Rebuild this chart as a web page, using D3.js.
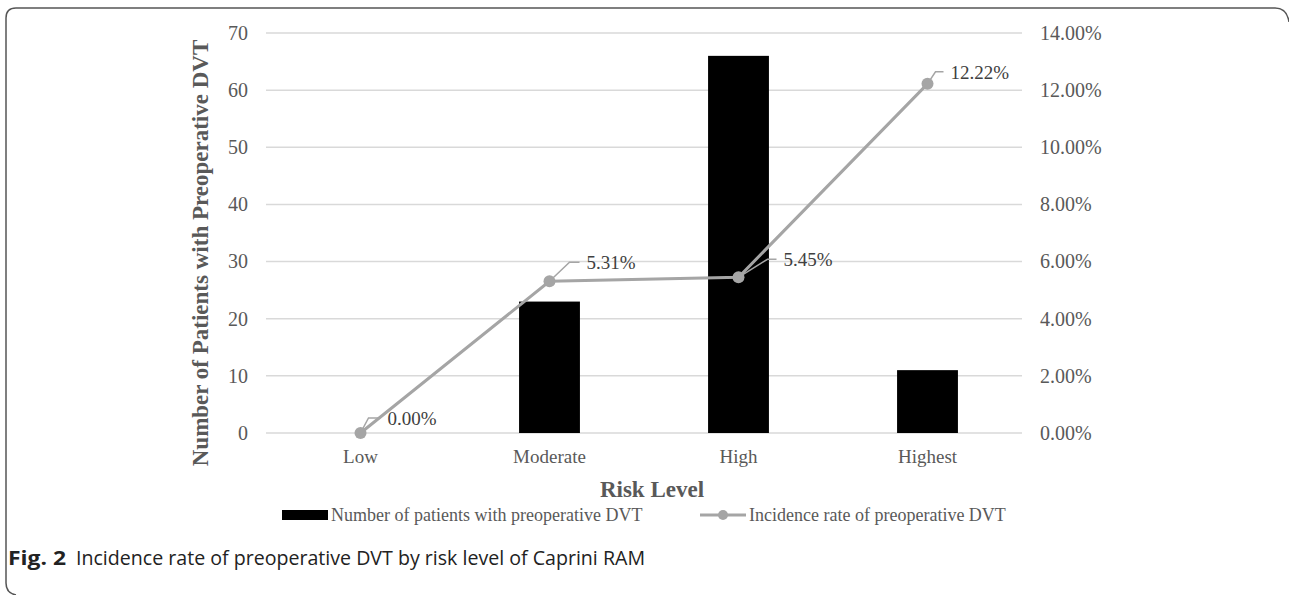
<!DOCTYPE html>
<html>
<head>
<meta charset="utf-8">
<script src="https://cdn.jsdelivr.net/npm/d3@7"></script>
<style>
  body { margin:0; background:#fff; }
  svg { display:block; }
</style>
</head>
<body>
<div id="allContainer"></div>
<script>
// data
var categories = ["Low", "Moderate", "High", "Highest"];
var patients = [0, 23, 66, 11];
var rates = [0.00, 5.31, 5.45, 12.22];
var leftTicks = [0, 10, 20, 30, 40, 50, 60, 70];
var rightTicks = [0, 2, 4, 6, 8, 10, 12, 14];

// label leader offsets [dx, dy, labelDx]
var labelOffsets = [[8, 15, 27], [20, 19, 37], [29, 18, 45], [8, 12, 23]];

var W = 1289, H = 595;
var margin = { left:266, right:267, top:33, bottom:162 };
var wid = W - margin.left - margin.right;
var hei = H - margin.top - margin.bottom;

var grey = "#595959";
var lineCol = "#a5a5a5";
var serif = "'Liberation Serif','Times New Roman',serif";

var svg = d3.select("#allContainer")
    .append("svg")
    .attr("width", W)
    .attr("height", H);

// frame
svg.append("path")
    .attr("d", "M1289,22 Q1287,8 1275,8 L16,8 Q6,8 6,18 L6,583 Q6,593 16,595")
    .attr("fill", "none")
    .attr("stroke", "#555")
    .attr("stroke-width", 1.5);

var g = svg.append("g")
    .attr("transform", "translate(" + margin.left + "," + margin.top + ")");

var xScale = d3.scaleBand()
    .domain(categories)
    .range([0, wid]);

var yScale = d3.scaleLinear()
    .domain([0, 70])
    .range([hei, 0]);

var y2Scale = d3.scaleLinear()
    .domain([0, 14])
    .range([hei, 0]);

// gridlines
g.append("g")
    .selectAll("line")
    .data(leftTicks)
    .enter()
    .append("line")
    .attr("x1", 0)
    .attr("x2", wid)
    .attr("y1", function(d) { return yScale(d); })
    .attr("y2", function(d) { return yScale(d); })
    .attr("stroke", "#d9d9d9")
    .attr("stroke-width", 1.5);

// left axis
var yAxis = d3.axisLeft(yScale).tickValues(leftTicks).tickSize(0).tickPadding(18);
var yAxisGroup = g.append("g").call(yAxis);
yAxisGroup.select(".domain").remove();
yAxisGroup.selectAll("text")
    .attr("font-family", serif)
    .attr("font-size", 20)
    .attr("fill", grey);

// right axis
var y2Axis = d3.axisRight(y2Scale).tickValues(rightTicks).tickSize(0).tickPadding(18)
    .tickFormat(function(d) { return d.toFixed(2) + "%"; });
var y2AxisGroup = g.append("g")
    .attr("transform", "translate(" + wid + ",0)")
    .call(y2Axis);
y2AxisGroup.select(".domain").remove();
y2AxisGroup.selectAll("text")
    .attr("font-family", serif)
    .attr("font-size", 20)
    .attr("fill", grey);

// x axis
var xAxis = d3.axisBottom(xScale).tickSize(0).tickPadding(17);
var xAxisGroup = g.append("g")
    .attr("transform", "translate(0," + hei + ")")
    .call(xAxis);
xAxisGroup.select(".domain").remove();
xAxisGroup.selectAll("text")
    .attr("font-family", serif)
    .attr("font-size", 19)
    .attr("fill", grey);

// bars
var barW = xScale.bandwidth() * 0.322;
g.append("g")
    .selectAll("rect")
    .data(patients)
    .enter()
    .append("rect")
    .attr("x", function(d, i) { return xScale(categories[i]) + xScale.bandwidth()/2 - barW/2; })
    .attr("y", function(d) { return yScale(d); })
    .attr("width", barW)
    .attr("height", function(d) { return hei - yScale(d); })
    .attr("fill", "#000");

// line
var line = d3.line()
    .x(function(d, i) { return xScale(categories[i]) + xScale.bandwidth()/2; })
    .y(function(d) { return y2Scale(d); });

g.append("path")
    .datum(rates)
    .attr("d", line)
    .attr("fill", "none")
    .attr("stroke", lineCol)
    .attr("stroke-width", 3);

// leaders + labels
rates.forEach(function(d, i) {
    var px = xScale(categories[i]) + xScale.bandwidth()/2;
    var py = y2Scale(d);
    var o = labelOffsets[i];
    var lx = px + o[2];
    g.append("polyline")
        .attr("points", px + "," + py + " " + (px + o[0]) + "," + (py - o[1]) + " " + (lx - 7) + "," + (py - o[1]))
        .attr("fill", "none")
        .attr("stroke", lineCol)
        .attr("stroke-width", 1.5);
    g.append("text")
        .attr("x", lx)
        .attr("y", py - o[1] + 7)
        .attr("font-family", serif)
        .attr("font-size", 19)
        .attr("fill", "#404040")
        .text(d.toFixed(2) + "%");
});

g.append("g")
    .selectAll("circle")
    .data(rates)
    .enter()
    .append("circle")
    .attr("cx", function(d, i) { return xScale(categories[i]) + xScale.bandwidth()/2; })
    .attr("cy", function(d) { return y2Scale(d); })
    .attr("r", 6)
    .attr("fill", lineCol);

// axis titles
g.append("text")
    .attr("x", wid/2 + 8)
    .attr("y", hei + 64)
    .attr("text-anchor", "middle")
    .attr("font-family", serif)
    .attr("font-size", 23)
    .attr("font-weight", "bold")
    .attr("fill", grey)
    .text("Risk Level");

g.append("text")
    .attr("x", -hei/2 - 20)
    .attr("y", -58)
    .attr("text-anchor", "middle")
    .attr("transform", "rotate(-90)")
    .attr("font-family", serif)
    .attr("font-size", 23)
    .attr("font-weight", "bold")
    .attr("fill", grey)
    .text("Number of Patients with Preoperative DVT");

// legend
var legend = svg.append("g");
legend.append("rect")
    .attr("x", 282)
    .attr("y", 510)
    .attr("width", 46)
    .attr("height", 10)
    .attr("fill", "#000");
legend.append("text")
    .attr("x", 331)
    .attr("y", 521)
    .attr("font-family", serif)
    .attr("font-size", 18)
    .attr("fill", grey)
    .text("Number of patients with preoperative DVT");
legend.append("line")
    .attr("x1", 700)
    .attr("x2", 746)
    .attr("y1", 515)
    .attr("y2", 515)
    .attr("stroke", lineCol)
    .attr("stroke-width", 3);
legend.append("circle")
    .attr("cx", 723)
    .attr("cy", 515)
    .attr("r", 5)
    .attr("fill", lineCol);
legend.append("text")
    .attr("x", 749)
    .attr("y", 521)
    .attr("font-family", serif)
    .attr("font-size", 18)
    .attr("fill", grey)
    .text("Incidence rate of preoperative DVT");

// caption
var cap = svg.append("text")
    .attr("x", 8)
    .attr("y", 565)
    .attr("font-family", "'Open Sans',sans-serif")
    .attr("font-size", 20)
    .attr("fill", "#222");
cap.append("tspan")
    .attr("font-weight", "bold")
    .attr("textLength", 58)
    .attr("lengthAdjust", "spacingAndGlyphs")
    .text("Fig. 2");
cap.append("tspan")
    .attr("x", 76)
    .attr("textLength", 569)
    .attr("lengthAdjust", "spacingAndGlyphs")
    .text("Incidence rate of preoperative DVT by risk level of Caprini RAM");
</script>
</body>
</html>
